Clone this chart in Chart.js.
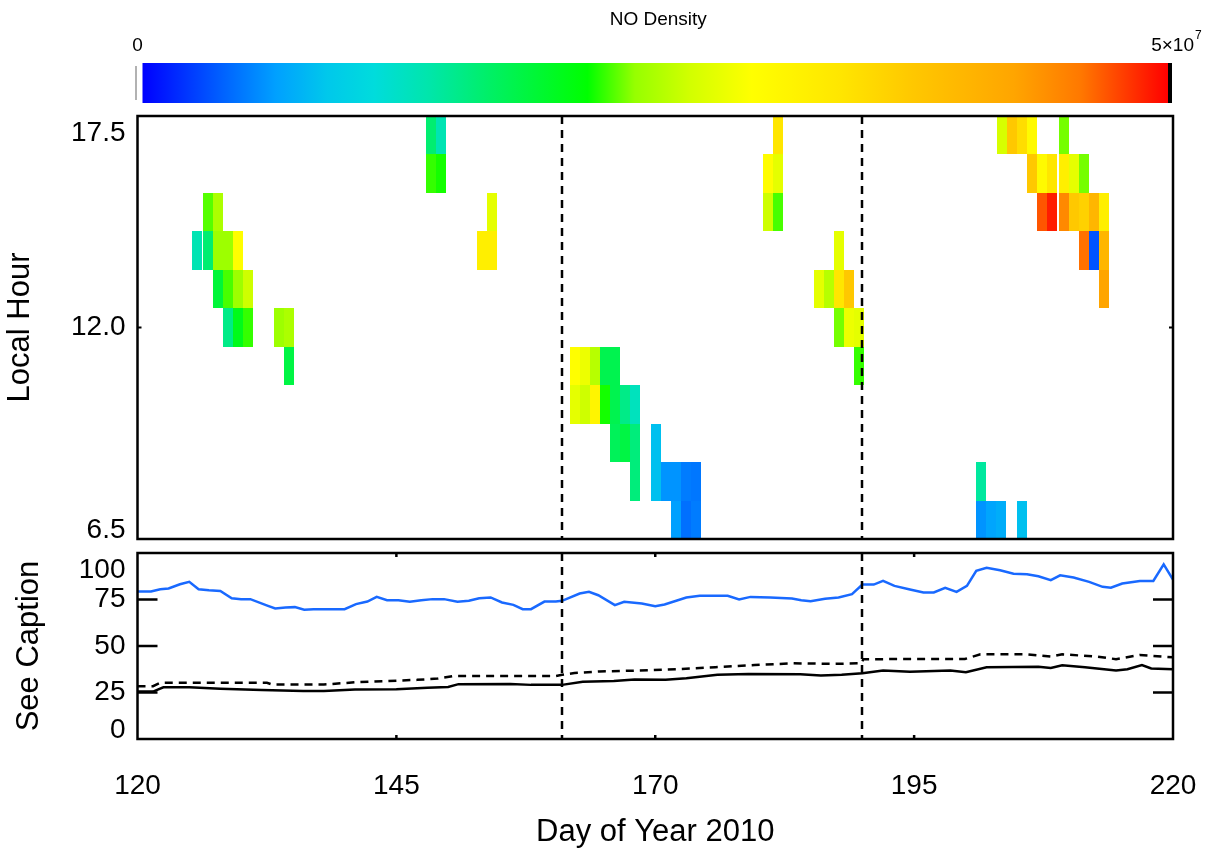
<!DOCTYPE html>
<html><head><meta charset="utf-8">
<script src="https://cdn.jsdelivr.net/npm/chart.js@4.4.1/dist/chart.umd.min.js"></script>
<style>
html,body{margin:0;padding:0;background:#fff;}
#wrap{position:relative;width:1209px;height:852px;background:#fff;}
canvas{position:absolute;left:0;top:0;}
</style></head><body>
<div id="wrap"><canvas id="topc" width="1209" height="852"></canvas><canvas id="botc" width="1209" height="852"></canvas></div>
<script>
// ---------------- DATA ----------------
const dayRange = [120, 220];
const dayTicks = [120, 145, 170, 195, 220];
const dayTickLabels = ['120', '145', '170', '195', '220'];
const hourRange = [6.5, 17.5];
const hourTicks = [6.5, 12, 17.5];
const hourTickLabels = ['6.5', '12.0', '17.5'];
const captionTicks = [0, 25, 50, 75, 100];
const captionTickLabels = ['0', '25', '50', '75', '100'];
const markerDays = [161, 190];
const densityMaxE7 = 5; // colour bar top: 5x10^7

// heat-map bins: start day, local hour (bin centre), NO density (x10^7)
const cellDay = [
 125.23,126.29,126.29,127.26,127.26,127.26,128.23,128.23,128.23,129.19,129.19,129.19,130.16,130.16,
 133.18,134.14,134.14,
 147.85,147.85,148.82,148.82,
 152.81,153.77,153.77,
 161.76,161.76,162.72,162.72,163.66,163.66,164.62,164.62,165.59,165.59,165.59,166.55,166.55,167.58,167.58,167.58,
 169.55,169.55,170.51,171.48,171.48,172.44,172.44,173.47,173.47,
 180.39,180.39,181.35,181.35,181.35,185.31,186.28,187.23,187.23,187.23,188.20,188.20,189.17,189.17,
 200.95,200.95,201.92,202.95,204.94,
 203.05,204.01,204.98,205.94,205.94,206.91,206.91,207.87,207.87,208.97,208.97,208.97,209.93,209.93,
 210.90,210.90,210.90,211.86,211.86,212.83,212.83,212.83
];
const cellHour = [
 14,15,14,15,14,13,14,13,12,14,13,12,13,12,
 12,12,11,
 17,16,17,16,
 14,15,14,
 11,10,11,10,11,10,11,10,11,10,9,10,9,10,9,8,
 9,8,8,8,7,8,7,8,7,
 16,15,17,16,15,13,13,14,13,12,13,12,12,11,
 8,7,7,7,7,
 17,17,17,17,16,16,15,16,15,17,16,15,16,15,
 16,15,14,15,14,15,14,13
];
const cellDensityE7 = [
 1.35,2.30,1.65,2.50,2.43,1.90,2.43,2.28,1.55,2.98,2.43,2.05,2.65,2.25,
 2.43,2.50,1.85,
 1.65,2.25,1.35,2.20,
 3.25,2.80,3.25,
 2.98,2.80,2.85,2.65,2.55,3.15,1.80,2.20,1.80,1.80,1.75,1.55,1.85,1.30,1.60,1.60,
 0.85,0.85,0.60,0.60,0.65,0.50,0.45,0.48,0.50,
 3.00,2.65,3.40,2.80,2.28,2.80,2.55,2.80,3.40,2.35,3.75,2.85,2.80,2.25,
 1.45,0.60,0.68,0.73,0.85,
 2.70,3.75,3.50,3.05,3.75,3.05,4.70,3.40,4.90,2.35,3.25,4.45,2.80,3.75,
 2.35,3.65,4.60,4.00,0.33,3.25,4.00,4.25
];

// lower panel series
const blueDays = [120,121.3,122.2,123,124.1,125,125.9,126.9,128,129.1,130,130.9,132.6,133.3,134.3,135.2,136.1,137,138.1,139.1,
 140,141.1,142.2,143.1,144.1,145.2,146.3,147.4,148.5,149.6,150.9,152,153,154.1,155.2,156.3,157.2,158,159.3,160.4,
 161,162.7,163.6,164.5,166.1,167,168.7,170,170.9,173,174.3,177,178.1,179.2,181.1,183.2,184.1,185,186.4,187.7,
 189,190,191.1,192,193.1,194.6,195.9,196.9,198,199.1,200.1,201,202,203.3,204.6,205.9,207,208.2,209.1,210.4,
 211.9,213.2,214,215.1,216.8,218.1,219.1,220];
const blueVals = [79.3,79.3,80.5,80.9,83.2,84.5,80.5,80,79.6,75.7,75.2,75.2,71.6,70.2,70.7,70.9,69.5,69.8,69.8,69.8,
 69.8,72.5,73.9,76.4,74.6,74.6,73.8,74.6,75.2,75.2,73.8,74.3,75.7,76.1,73.4,72.1,69.8,69.8,73.9,73.9,
 74.3,78.2,79.1,77.3,72,73.8,72.9,71.4,72.3,76.1,77,77,75,76.4,76.1,75.5,74.6,74.1,75.4,76.1,
 77.9,83,83,85,82.3,80.4,78.8,78.8,81.3,79.1,82.3,90.4,92.1,90.7,88.9,88.6,87.5,85.4,88,86.8,
 84.5,81.8,81.3,83.6,85,85,93.9,85.7];
const dashDays = [120,121.5,122.2,132.5,133,138,141,147,149,150.5,160.4,161,162.2,164.6,168.3,172.1,175.8,179.6,183.3,187.1,
 189.9,190.1,194.6,199.9,201.4,205.9,208.2,209.3,212.7,214.5,216.8,220];
const dashVals = [28.4,28.4,30.2,30.2,29.3,29.3,30.5,31.8,32.5,33.9,33.9,34.5,35.5,36.3,36.8,37.5,38.6,39.8,40.7,40.4,
 40.7,42.9,43.0,43.0,45.5,45.5,44.3,45.5,44.3,42.9,45.2,43.9];
const solidDays = [120,121.5,122.5,125,128,132,136,138,141,145,148,150,151,156,158,161,163,166,168,171,
 173,176,179,184,186,188,190,192,194.6,198.5,200,202,207,208.2,209.3,211.5,214.5,215.6,217,217.9,220];
const solidVals = [25.5,25.5,27.8,27.8,27.0,26.3,25.8,25.8,26.6,26.8,27.6,28.0,29.5,29.6,29.1,29.1,30.8,31.2,32.0,31.8,
 32.7,34.5,35.0,34.8,34.1,34.6,35.4,36.8,36.1,36.8,35.9,38.6,38.9,38.2,39.6,38.6,36.8,37.5,39.8,37.9,37.5];

// colour table (fraction of bar -> rgb)
const cmapPos = [0,0.08,0.13,0.18,0.226,0.28,0.34,0.434,0.48,0.534,0.594,0.68,0.75,0.85,0.915,1.0];
const cmapRGB = [[0,0,255],[0,100,255],[0,160,255],[0,200,235],[0,220,220],[0,230,170],[0,240,100],[0,255,0],
 [150,255,0],[210,255,0],[255,255,0],[255,230,0],[255,200,0],[255,165,0],[255,120,0],[255,0,0]];

// ---------------- HELPERS ----------------
const FONT = '"Liberation Sans", Arial, Helvetica, sans-serif';
function colorFor(f){
  f = Math.max(0, Math.min(1, f));
  for (let i = 1; i < cmapPos.length; i++) {
    if (f <= cmapPos[i]) {
      const t = (f - cmapPos[i-1]) / (cmapPos[i] - cmapPos[i-1]);
      const a = cmapRGB[i-1], b = cmapRGB[i];
      return 'rgb(' + a.map((c, k) => Math.round(c + (b[k] - c) * t)).join(',') + ')';
    }
  }
  return 'rgb(255,0,0)';
}
const CELL_W = 0.97;  // bin width in days
const HALF_H = 0.5;   // bin half-height in hours

function drawFrame(chart){
  const {ctx, chartArea: a} = chart;
  ctx.save();
  ctx.strokeStyle = '#000'; ctx.lineWidth = 2.5;
  ctx.strokeRect(a.left, a.top, a.right - a.left, a.bottom - a.top);
  ctx.restore();
}
function drawMarkers(chart){
  const {ctx, chartArea: a, scales: {x}} = chart;
  ctx.save();
  ctx.strokeStyle = '#000'; ctx.lineWidth = 2.5; ctx.setLineDash([8, 6]);
  markerDays.forEach(d => {
    const px = Math.round(x.getPixelForValue(d));
    ctx.beginPath(); ctx.moveTo(px, a.top); ctx.lineTo(px, a.bottom); ctx.stroke();
  });
  ctx.restore();
}
function noSidePadding(s){ s.paddingLeft = 0; s.paddingRight = 0; }

const heatPlugin = {
  id: 'heat',
  beforeDatasetsDraw(chart){
    const {ctx, chartArea: a, scales: {x, y}} = chart;
    ctx.save();
    ctx.beginPath(); ctx.rect(a.left, a.top, a.right - a.left, a.bottom - a.top); ctx.clip();
    for (let i = 0; i < cellDay.length; i++) {
      const x0 = Math.round(x.getPixelForValue(cellDay[i]));
      const x1 = Math.round(x.getPixelForValue(cellDay[i] + CELL_W));
      const y0 = Math.round(y.getPixelForValue(cellHour[i] + HALF_H));
      const y1 = Math.round(y.getPixelForValue(cellHour[i] - HALF_H));
      ctx.fillStyle = colorFor(cellDensityE7[i] / densityMaxE7);
      ctx.fillRect(x0, y0, x1 - x0, y1 - y0);
    }
    ctx.restore();
  },
  afterDraw(chart){
    const {ctx, chartArea: a, scales: {y}} = chart;
    drawMarkers(chart);
    drawFrame(chart);
    // small ticks at 12.0
    ctx.save(); ctx.strokeStyle = '#000'; ctx.lineWidth = 2;
    const py = y.getPixelForValue(12);
    ctx.beginPath(); ctx.moveTo(a.left, py); ctx.lineTo(a.left + 4, py);
    ctx.moveTo(a.right, py); ctx.lineTo(a.right - 4, py); ctx.stroke();
    ctx.restore();
    // colour bar
    const bx0 = a.left + 5, bx1 = a.right - 5, by0 = 63, by1 = 103;
    const g = ctx.createLinearGradient(bx0, 0, bx1, 0);
    cmapPos.forEach((p, i) => g.addColorStop(p, 'rgb(' + cmapRGB[i].join(',') + ')'));
    ctx.save();
    ctx.fillStyle = g; ctx.fillRect(bx0, by0, bx1 - bx0, by1 - by0);
    ctx.fillStyle = '#000'; ctx.fillRect(bx1, by0, 4, by1 - by0);
    ctx.fillStyle = '#666'; ctx.fillRect(a.left - 2, by0 + 3, 1, by1 - by0 - 6);
    ctx.fillStyle = '#000';
    ctx.textBaseline = 'middle';
    ctx.font = '19px ' + FONT; ctx.textAlign = 'center';
    ctx.fillText('NO Density', (a.left + a.right) / 2 + 3, 20);
    ctx.font = '19px ' + FONT;
    ctx.fillText('0', a.left, 46);
    ctx.textAlign = 'right';
    ctx.fillText('5\u00d710', a.right + 21, 46);
    ctx.textAlign = 'left'; ctx.font = '12px ' + FONT;
    ctx.fillText('7', a.right + 22, 36);
    ctx.restore();
  }
};

const lowerPlugin = {
  id: 'lower',
  afterDraw(chart){
    const {ctx, chartArea: a, scales: {x, y}} = chart;
    drawMarkers(chart);
    drawFrame(chart);
    ctx.save(); ctx.strokeStyle = '#000'; ctx.lineWidth = 2.5;
    ctx.beginPath();
    captionTicks.slice(1, -1).forEach(v => {
      const py = y.getPixelForValue(v);
      ctx.moveTo(a.left, py); ctx.lineTo(a.left + 20, py);
      ctx.moveTo(a.right, py); ctx.lineTo(a.right - 20, py);
    });
    dayTicks.slice(1, -1).forEach(v => {
      const px = x.getPixelForValue(v);
      ctx.moveTo(px, a.top); ctx.lineTo(px, a.top + 4);
      ctx.moveTo(px, a.bottom); ctx.lineTo(px, a.bottom - 4);
    });
    ctx.stroke(); ctx.restore();
  }
};

function endLabel(labels, ticks, v){
  const i = ticks.indexOf(v);
  const s = labels[i];
  if (i === ticks.length - 1) return ['', '', s];
  if (i === 0) return [s, ''];
  return s;
}

// ---------------- TOP PANEL ----------------
new Chart(document.getElementById('topc'), {
  type: 'scatter',
  data: { datasets: [] },
  options: {
    responsive: false, animation: false, events: [],
    layout: { padding: { top: 116, right: 36, bottom: 313, left: 0 } },
    plugins: { legend: { display: false }, tooltip: { enabled: false } },
    scales: {
      x: { type: 'linear', min: dayRange[0], max: dayRange[1], display: false },
      y: {
        type: 'linear', min: hourRange[0], max: hourRange[1],
        afterFit(s){ s.width = 137.5; },
        afterBuildTicks(s){ s.ticks = hourTicks.map(v => ({ value: v })); },
        grid: { display: false, drawTicks: false }, border: { display: false },
        ticks: { padding: 12, color: '#000', autoSkip: false, font: { family: FONT, size: 28, lineHeight: 0.6 },
          callback: v => endLabel(hourTickLabels, hourTicks, v) },
        title: { display: true, text: 'Local Hour', color: '#000', font: { family: FONT, size: 31 }, padding: { top: 2, bottom: 0 } }
      }
    }
  },
  plugins: [heatPlugin]
});

// ---------------- LOWER PANEL ----------------
const pts = (xs, ys) => xs.map((d, i) => ({ x: d, y: ys[i] }));
new Chart(document.getElementById('botc'), {
  type: 'line',
  data: { datasets: [
    { data: pts(dashDays, dashVals), borderColor: '#000', borderWidth: 2.5, borderDash: [8, 6], pointRadius: 0, tension: 0 },
    { data: pts(solidDays, solidVals), borderColor: '#000', borderWidth: 2.5, pointRadius: 0, tension: 0 },
    { data: pts(blueDays, blueVals), borderColor: 'rgb(25,105,255)', borderWidth: 2.5, pointRadius: 0, tension: 0 }
  ] },
  options: {
    responsive: false, animation: false, events: [],
    layout: { padding: { top: 553, right: 36, bottom: 0, left: 0 } },
    plugins: { legend: { display: false }, tooltip: { enabled: false } },
    scales: {
      x: {
        type: 'linear', min: dayRange[0], max: dayRange[1],
        afterFit(s){ s.height = 113; noSidePadding(s); },
        afterBuildTicks(s){ s.ticks = dayTicks.map(v => ({ value: v })); },
        grid: { display: false, drawTicks: false }, border: { display: false },
        ticks: { padding: 30, color: '#000', maxRotation: 0, autoSkip: false, font: { family: FONT, size: 28 },
          callback: v => dayTickLabels[dayTicks.indexOf(v)] },
        title: { display: true, text: 'Day of Year 2010', color: '#000', font: { family: FONT, size: 31 }, padding: { top: 0, bottom: 1 } }
      },
      y: {
        type: 'linear', min: 0, max: 100,
        afterFit(s){ s.width = 137.5; },
        afterBuildTicks(s){ s.ticks = captionTicks.map(v => ({ value: v })); },
        grid: { display: false, drawTicks: false }, border: { display: false },
        ticks: { padding: 12, color: '#000', autoSkip: false, font: { family: FONT, size: 28, lineHeight: 0.6 },
          callback: v => endLabel(captionTickLabels, captionTicks, v) },
        title: { display: true, text: 'See Caption', color: '#000', font: { family: FONT, size: 31 }, padding: { top: 11, bottom: 0 } }
      }
    }
  },
  plugins: [lowerPlugin]
});
</script>
</body></html>
